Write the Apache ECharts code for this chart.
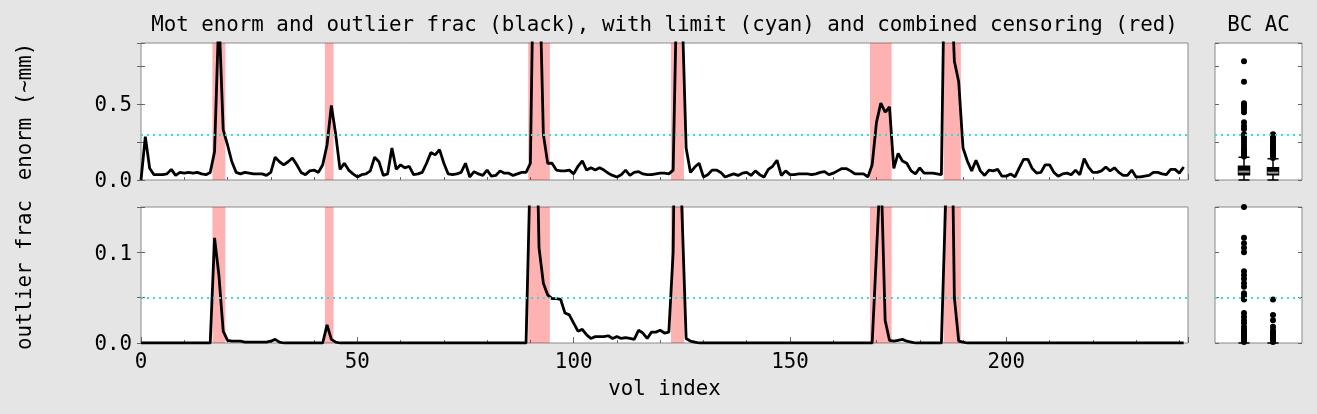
<!DOCTYPE html>
<html><head><meta charset="utf-8">
<script src="https://cdn.jsdelivr.net/npm/echarts@6/dist/echarts.min.js"></script>
<style>html,body{margin:0;padding:0;background:#e5e5e5;} #c{width:1317px;height:414px;}</style>
</head><body><div id="c"></div>
<script>
// ---------------- data ----------------
const enorm = [
0.0, 0.285, 0.077, 0.035, 0.035, 0.035, 0.04, 0.07, 0.03, 0.05,
0.045, 0.05, 0.045, 0.05, 0.04, 0.035, 0.05, 0.186, 1.1, 0.33,
0.23, 0.12, 0.05, 0.04, 0.05, 0.045, 0.04, 0.04, 0.04, 0.03,
0.05, 0.15, 0.12, 0.10, 0.12, 0.145, 0.10, 0.05, 0.035, 0.06,
0.065, 0.05, 0.10, 0.23, 0.49, 0.30, 0.07, 0.11, 0.065, 0.04,
0.02, 0.035, 0.04, 0.06, 0.15, 0.12, 0.03, 0.04, 0.21, 0.07,
0.1, 0.08, 0.09, 0.035, 0.04, 0.05, 0.11, 0.18, 0.165, 0.2,
0.11, 0.04, 0.035, 0.04, 0.05, 0.11, 0.02, 0.055, 0.04, 0.03,
0.065, 0.025, 0.03, 0.06, 0.045, 0.045, 0.03, 0.04, 0.05, 0.05,
0.11, 2.0, 1.5, 0.3, 0.11, 0.11, 0.065, 0.06, 0.06, 0.065,
0.04, 0.09, 0.125, 0.065, 0.08, 0.065, 0.08, 0.065, 0.045, 0.03,
0.02, 0.035, 0.065, 0.03, 0.05, 0.055, 0.04, 0.035, 0.035, 0.04,
0.045, 0.045, 0.04, 0.065, 1.5, 1.2, 0.21, 0.05, 0.085, 0.11,
0.02, 0.035, 0.065, 0.065, 0.05, 0.02, 0.03, 0.04, 0.03, 0.045,
0.05, 0.03, 0.06, 0.035, 0.02, 0.07, 0.09, 0.13, 0.03, 0.06,
0.035, 0.035, 0.04, 0.04, 0.04, 0.035, 0.04, 0.05, 0.055, 0.035,
0.045, 0.06, 0.075, 0.075, 0.06, 0.04, 0.04, 0.04, 0.02, 0.1,
0.38, 0.505, 0.445, 0.48, 0.077, 0.175, 0.125, 0.11, 0.06, 0.04,
0.08, 0.045, 0.045, 0.045, 0.04, 0.035, 2.0, 1.5, 0.78, 0.645,
0.21, 0.125, 0.06, 0.13, 0.06, 0.03, 0.065, 0.06, 0.07, 0.025,
0.025, 0.04, 0.02, 0.08, 0.135, 0.135, 0.075, 0.045, 0.05, 0.1,
0.1, 0.05, 0.025, 0.04, 0.045, 0.035, 0.065, 0.035, 0.14, 0.085,
0.05, 0.05, 0.06, 0.085, 0.06, 0.08, 0.05, 0.03, 0.03, 0.065,
0.02, 0.02, 0.025, 0.03, 0.05, 0.05, 0.04, 0.035, 0.07, 0.07,
0.045, 0.085
];
const outlierFrac = [
0, 0, 0, 0, 0, 0, 0, 0, 0, 0,
0, 0, 0, 0, 0, 0, 0, 0.116, 0.075, 0.013,
0.003, 0.002, 0.002, 0.002, 0.001, 0.001, 0.001, 0.001, 0.001, 0.001,
0.002, 0.004, 0.001, 0, 0, 0, 0, 0, 0, 0,
0, 0, 0, 0.02, 0.004, 0.001, 0, 0, 0, 0,
0, 0, 0, 0, 0, 0, 0, 0, 0, 0,
0, 0, 0, 0, 0, 0, 0, 0, 0, 0,
0, 0, 0, 0, 0, 0, 0, 0, 0, 0,
0, 0, 0, 0, 0, 0, 0, 0, 0, 0,
0.2, 0.34, 0.105, 0.066, 0.053, 0.049, 0.049, 0.048, 0.033, 0.031,
0.022, 0.013, 0.015, 0.009, 0.005, 0.007, 0.007, 0.007, 0.008, 0.005,
0.007, 0.005, 0.006, 0.005, 0.004, 0.014, 0.011, 0.005, 0.012, 0.012,
0.014, 0.011, 0.012, 0.1, 0.5, 0.15, 0.005, 0.002, 0.001, 0,
0, 0, 0, 0, 0, 0, 0, 0, 0, 0,
0, 0, 0, 0, 0, 0, 0, 0, 0, 0,
0, 0, 0, 0, 0, 0, 0, 0, 0, 0,
0, 0, 0, 0, 0, 0, 0, 0, 0, 0,
0.1, 0.2, 0.025, 0.003, 0.002, 0.003, 0.004, 0.002, 0.001, 0,
0, 0, 0, 0, 0, 0, 0.16, 0.4, 0.05, 0.002,
0.001, 0, 0, 0, 0, 0, 0, 0, 0, 0,
0, 0, 0, 0, 0, 0, 0, 0, 0, 0,
0, 0, 0, 0, 0, 0, 0, 0, 0, 0,
0, 0, 0, 0, 0, 0, 0, 0, 0, 0,
0, 0, 0, 0, 0, 0, 0, 0, 0, 0,
0, 0
];
const censored = [17, 18, 19, 43, 44, 90, 91, 92, 93, 94, 123, 124, 125, 169, 170, 171, 172, 173, 186, 187, 188, 189];
const enormLimit = 0.3;
const fracLimit = 0.05;

const boxNames = ['BC', 'AC'];
const boxPositions = [1, 2];
// [min, Q1, median, Q3, max]
const enormBoxBC = [0.0, 0.035, 0.055, 0.09, 0.15];
const enormBoxAC = [0.0, 0.035, 0.048, 0.08, 0.14];
const fracBoxBC = [0, 0, 0, 0, 0];
const fracBoxAC = [0, 0, 0, 0, 0];
const enormOutBC = [0.78, 0.645, 0.505, 0.49, 0.48, 0.465, 0.445, 0.38, 0.355, 0.335, 0.3, 0.285, 0.27, 0.25, 0.23, 0.21, 0.2, 0.19, 0.175, 0.165, 0.155];
const enormOutAC = [0.30, 0.29, 0.28, 0.265, 0.25, 0.235, 0.22, 0.21, 0.2, 0.19, 0.18, 0.17, 0.16, 0.15, 0.145];
const fracOutBC = [0.15, 0.116, 0.11, 0.105, 0.1, 0.079, 0.075, 0.071, 0.066, 0.062, 0.055, 0.052, 0.049, 0.048, 0.033, 0.029, 0.025, 0.022, 0.018, 0.015, 0.013, 0.012, 0.011, 0.009, 0.008, 0.007, 0.006, 0.005, 0.004, 0.003, 0.002, 0.001];
const fracOutAC = [0.048, 0.031, 0.025, 0.018, 0.014, 0.012, 0.011, 0.009, 0.008, 0.007, 0.006, 0.005, 0.004, 0.003, 0.002, 0.001];

const xTickLabels = [0, 50, 100, 150, 200];
const enormTickLabels = [0.0, 0.5];
const fracTickLabels = [0.0, 0.1];
const titleMain = 'Mot enorm and outlier frac (black), with limit (cyan) and combined censoring (red)';
const titleBox = 'BC AC';

// ---------------- build ----------------
const FONT = 'DejaVu Sans Mono';
const FS = 20.8;
const CYAN = '#33dede';

function runs(idx) {
  const out = [];
  let s = null, p = null;
  idx.slice().sort((a, b) => a - b).forEach(i => {
    if (s === null) { s = i; p = i; }
    else if (i === p + 1) { p = i; }
    else { out.push([s, p]); s = i; p = i; }
  });
  if (s !== null) out.push([s, p]);
  return out;
}
const bands = runs(censored).map(r => [{ xAxis: r[0] - 0.5 }, { xAxis: r[1] + 0.5 }]);

function fmtMatch(list, digits, rich) {
  return v => {
    for (const t of list) {
      if (Math.abs(v - t) < 1e-9) return rich ? '{a|' + t.toFixed(digits) + '}' : t.toFixed(digits);
    }
    return '';
  };
}

const gridBase = { show: true, backgroundColor: '#ffffff', borderColor: '#8a8a8a', borderWidth: 1 };
const tickLine = { color: '#666', width: 1 };

function xAx(gi, opts) {
  return Object.assign({
    type: 'value', gridIndex: gi, position: 'bottom', min: 0, max: 242,
    axisLine: { show: false }, splitLine: { show: false },
    axisTick: { show: true, inside: true, length: 3, lineStyle: tickLine },
    axisLabel: { show: false }
  }, opts);
}
function yAx(gi, pos, max, interval, labels, name) {
  const a = {
    type: 'value', gridIndex: gi, position: pos, min: 0, max: max, interval: interval,
    axisLine: { show: false }, splitLine: { show: false },
    axisTick: { show: true, inside: true, length: 4, lineStyle: tickLine },
    axisLabel: labels ? {
      show: true, formatter: fmtMatch(labels, 1, true), margin: 9,
      fontFamily: FONT, fontSize: FS, color: '#000',
      rich: { a: { fontFamily: FONT, fontSize: FS, color: '#000', padding: [4, 0, 0, 0] } }
    } : { show: false }
  };
  if (name) {
    a.name = name; a.nameLocation = 'middle'; a.nameGap = 105; a.nameRotate = 90;
    a.nameTextStyle = { fontFamily: FONT, fontSize: FS, color: '#000' };
  }
  return a;
}
function boxX(gi) {
  return { type: 'value', gridIndex: gi, min: 0, max: 3, show: true, axisLine: { show: false }, axisTick: { show: false }, axisLabel: { show: false }, splitLine: { show: false } };
}
function limitLine(v) {
  return { silent: true, symbol: ['none', 'none'], label: { show: false },
    lineStyle: { color: CYAN, type: [2, 4], width: 2, opacity: 1 }, emphasis: { disabled: true }, data: [{ yAxis: v }] };
}
function boxData(a, b) { return [[boxPositions[0]].concat(a), [boxPositions[1]].concat(b)]; }
function outData(a, b) { return a.map(v => [boxPositions[0], v]).concat(b.map(v => [boxPositions[1], v])); }

const option = {
  animation: false,
  backgroundColor: '#e5e5e5',
  grid: [
    Object.assign({ left: 141, top: 43, width: 1047, height: 137 }, gridBase),
    Object.assign({ left: 141, top: 207, width: 1047, height: 136 }, gridBase),
    Object.assign({ left: 1215, top: 43, width: 87, height: 137 }, gridBase),
    Object.assign({ left: 1215, top: 207, width: 87, height: 136 }, gridBase)
  ],
  xAxis: [
    xAx(0, { interval: 10 }),
    xAx(0, { interval: 50, axisTick: { show: true, inside: true, length: 6, lineStyle: tickLine } }),
    xAx(1, { interval: 10, axisLabel: { show: true, formatter: fmtMatch(xTickLabels, 0, false), margin: 9, fontFamily: FONT, fontSize: FS, color: '#000' },
      name: 'vol index', nameLocation: 'middle', nameGap: 36, nameTextStyle: { fontFamily: FONT, fontSize: FS, color: '#000' } }),
    xAx(1, { interval: 50, axisTick: { show: true, inside: true, length: 6, lineStyle: tickLine } }),
    boxX(2),
    boxX(3)
  ],
  yAxis: [
    yAx(0, 'left', 0.9, 0.25, enormTickLabels, 'enorm (~mm)'),
    yAx(0, 'right', 0.9, 0.25, null),
    yAx(1, 'left', 0.15, 0.05, fracTickLabels, 'outlier frac'),
    yAx(1, 'right', 0.15, 0.05, null),
    yAx(2, 'left', 0.9, 0.25, null),
    yAx(2, 'right', 0.9, 0.25, null),
    yAx(3, 'left', 0.15, 0.05, null),
    yAx(3, 'right', 0.15, 0.05, null)
  ],
  graphic: [
    { type: 'text', x: 664.5, y: 26, style: { text: titleMain, fill: '#000', font: FS + 'px "' + FONT + '"', align: 'center', verticalAlign: 'middle' } },
    { type: 'text', x: 1258.5, y: 26, style: { text: titleBox, fill: '#000', font: FS + 'px "' + FONT + '"', align: 'center', verticalAlign: 'middle' } }
  ],
  series: [
    { type: 'line', xAxisIndex: 0, yAxisIndex: 0, data: enorm.map((v, i) => [i, v]), showSymbol: false, clip: true,
      lineStyle: { color: '#000', width: 2.8 }, z: 3,
      markArea: { silent: true, itemStyle: { color: 'rgba(255,0,0,0.3)' }, data: bands },
      markLine: limitLine(enormLimit) },
    { type: 'line', xAxisIndex: 2, yAxisIndex: 2, data: outlierFrac.map((v, i) => [i, v]), showSymbol: false, clip: true,
      lineStyle: { color: '#000', width: 2.8 }, z: 3,
      markArea: { silent: true, itemStyle: { color: 'rgba(255,0,0,0.3)' }, data: bands },
      markLine: limitLine(fracLimit) },
    { type: 'boxplot', xAxisIndex: 4, yAxisIndex: 4, data: boxData(enormBoxBC, enormBoxAC), boxWidth: [11, 11],
      itemStyle: { color: '#000', borderColor: '#000', borderWidth: 1.5 } },
    { type: 'scatter', xAxisIndex: 4, yAxisIndex: 4, data: outData(enormOutBC, enormOutAC), symbolSize: 6,
      itemStyle: { color: '#000', opacity: 1 }, markLine: limitLine(enormLimit) },
    { type: 'scatter', xAxisIndex: 4, yAxisIndex: 4, data: [[boxPositions[0], enormBoxBC[2]], [boxPositions[1], enormBoxAC[2]]],
      symbol: 'rect', symbolSize: [11, 2], itemStyle: { color: '#9a9a9a', opacity: 1 }, z: 5 },
    { type: 'boxplot', xAxisIndex: 5, yAxisIndex: 6, data: boxData(fracBoxBC, fracBoxAC), boxWidth: [11, 11],
      itemStyle: { color: '#000', borderColor: '#000', borderWidth: 1.5 } },
    { type: 'scatter', xAxisIndex: 5, yAxisIndex: 6, data: outData(fracOutBC, fracOutAC), symbolSize: 6,
      itemStyle: { color: '#000', opacity: 1 }, markLine: limitLine(fracLimit) }
  ]
};
const chart = echarts.init(document.getElementById('c'), null, { renderer: 'canvas' });
chart.setOption(option);
</script>
</body></html>
